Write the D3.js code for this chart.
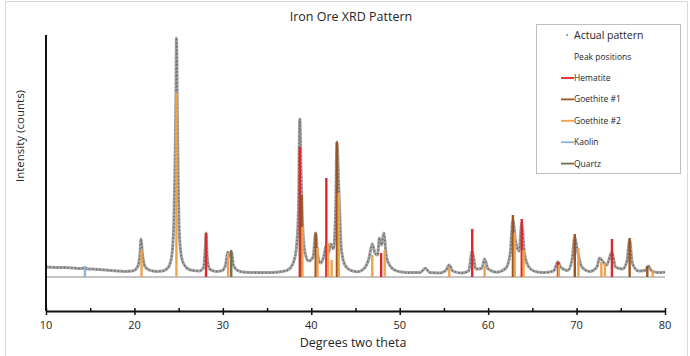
<!DOCTYPE html>
<html>
<head>
<meta charset="utf-8">
<script src="https://cdn.jsdelivr.net/npm/d3@7"></script>
<style>
  body { margin: 0; background: #fff; }
  text { font-family: "Open Sans", sans-serif; fill: #262626; }
</style>
</head>
<body>
<div id="area"></div>
<script>
// measured pattern, [2theta, counts]
var pattern = [
  [10.0,250],[11,240],[12,235],[13,225],[14,215],[14.4,230],[14.6,205],[15,200],[16,185],[17,170],
  [18,150],[19,140],[19.8,150],[20.3,230],[20.6,500],[20.75,950],[20.9,600],[21.2,260],[21.7,170],
  [22.5,140],[23.2,150],[23.8,230],[24.2,500],[24.45,1300],[24.6,2900],[24.7,4700],[24.75,5975],
  [24.8,5500],[24.85,4200],[24.95,2400],[25.1,1000],[25.4,420],[25.9,230],[26.6,160],[27.3,150],
  [27.8,230],[28.0,700],[28.1,1100],[28.2,600],[28.5,200],[29.2,140],[29.9,160],[30.3,300],
  [30.55,620],[30.7,500],[30.95,650],[31.2,300],[31.7,160],[32.5,120],[34,110],[35.5,110],[36.5,130],
  [37.3,170],[37.9,320],[38.3,700],[38.55,1700],[38.7,3950],[38.85,2600],[39.0,1400],[39.3,600],
  [39.7,400],[40.2,500],[40.5,1100],[40.7,600],[41.0,350],[41.4,500],[41.7,800],[41.95,600],
  [42.2,825],[42.5,700],[42.75,1600],[42.9,3375],[43.1,2300],[43.4,700],[43.8,300],[44.4,170],
  [45.2,130],[46.0,220],[46.5,450],[46.9,825],[47.2,600],[47.5,550],[47.7,975],[47.95,800],
  [48.2,1100],[48.5,500],[49,250],[49.8,140],[51,110],[52.3,110],[52.9,220],[53.4,110],[54.5,100],
  [55.2,160],[55.6,300],[56,150],[57,100],[57.8,150],[58.2,650],[58.6,200],[59.3,220],[59.6,450],
  [60,200],[61,120],[62.0,220],[62.5,600],[62.8,1425],[63.1,900],[63.5,650],[63.8,1350],[64.1,600],
  [64.6,250],[65.3,140],[66.2,110],[67.4,150],[67.9,380],[68.2,250],[69,160],[69.5,450],[69.8,1000],
  [70.1,650],[70.6,250],[71.5,140],[72.3,250],[72.6,475],[73.0,380],[73.4,300],[74.0,625],
  [74.4,250],[75.2,200],[75.7,400],[76.0,925],[76.3,350],[77,150],[77.8,170],[78.1,275],[78.5,150],
  [79.2,110],[80,120]
];

// peak positions, [2theta, counts]
var hematite = [[28.1,1100],[38.7,3250],[41.7,2475],[47.9,600],[58.2,1200],[63.8,1450],[67.9,375],[74.0,950]];
var goethite1 = [[38.9,2050],[40.5,1100],[42.9,3375],[62.8,1550],[69.8,1075],[76.0,975],[78.0,275]];
var goethite2 = [[20.8,675],[24.75,4600],[30.6,600],[39.0,1250],[40.7,725],[41.9,850],[42.3,425],
  [43.1,2100],[46.9,550],[48.3,675],[55.6,225],[59.6,275],[63.0,1100],[64.0,675],[68.0,300],
  [70.2,725],[72.8,375],[73.2,325],[78.6,175]];
var kaolin = [[14.4,275]];
var quartz = [[30.95,650]];

var phaseNames = ["Hematite", "Goethite #1", "Goethite #2", "Kaolin", "Quartz"];
var phaseData = [hematite, goethite1, goethite2, kaolin, quartz];
var phaseColors = ["#E0282C", "#9A5520", "#F0A24E", "#8DB3E2", "#6F6F55"];
var xTicks = [10, 20, 30, 40, 50, 60, 70, 80];

var width = 690, height = 356;
var svg = d3.select("#area").append("svg")
  .attr("width", width).attr("height", height);

svg.append("rect")
  .attr("x", 5.5).attr("y", 1.5)
  .attr("width", 682).attr("height", 360)
  .attr("fill", "none").attr("stroke", "#d9d9d9");

var x = d3.scaleLinear().domain([10, 80]).range([46, 665]);
var y = d3.scaleLinear().domain([-850, 6050]).range([311, 35]);

// zero line
svg.append("line")
  .attr("x1", x(10)).attr("x2", x(80))
  .attr("y1", y(0)).attr("y2", y(0))
  .attr("stroke", "#8a8a8a").attr("stroke-width", 1);

// measured pattern, drawn as a dotted trace
var line = d3.line()
  .x(function (d) { return x(d[0]); })
  .y(function (d) { return y(d[1]); })
  .curve(d3.curveMonotoneX);

svg.append("path")
  .datum(pattern)
  .attr("d", line)
  .attr("fill", "none")
  .attr("stroke", "#a6a6a6")
  .attr("stroke-width", 3);

svg.append("path")
  .datum(pattern)
  .attr("d", line)
  .attr("fill", "none")
  .attr("stroke", "#6e6e6e")
  .attr("stroke-width", 1.6)
  .attr("stroke-dasharray", "1.4,2.2");

// peak sticks
phaseData.forEach(function (peaks, i) {
  svg.append("g").selectAll("line")
    .data(peaks)
    .enter()
    .append("line")
    .attr("x1", function (d) { return x(d[0]); })
    .attr("x2", function (d) { return x(d[0]); })
    .attr("y1", y(0))
    .attr("y2", function (d) { return y(d[1]); })
    .attr("stroke", phaseColors[i])
    .attr("stroke-width", 2.4);
});

// axes
svg.append("line")
  .attr("x1", x(10)).attr("x2", x(10))
  .attr("y1", y(6050)).attr("y2", y(-850))
  .attr("stroke", "#111").attr("stroke-width", 2);

var xAxis = d3.axisBottom(x)
  .tickValues(d3.range(10, 81, 5))
  .tickSize(0)
  .tickFormat("");
var gx = svg.append("g")
  .attr("transform", "translate(0," + y(-850) + ")")
  .call(xAxis);
gx.select(".domain").attr("stroke", "#111").attr("stroke-width", 2);
gx.selectAll(".tick line")
  .attr("y1", function (d) { return d % 10 === 0 ? 4 : 1; })
  .attr("y2", -3)
  .attr("stroke", "#111").attr("stroke-width", 1.5);

svg.append("g").selectAll("text")
  .data(xTicks)
  .enter()
  .append("text")
  .attr("x", function (d) { return x(d); })
  .attr("y", 329)
  .attr("text-anchor", "middle")
  .style("font-size", "11px")
  .text(function (d) { return d; });

svg.append("text")
  .attr("x", 353).attr("y", 347)
  .attr("text-anchor", "middle")
  .style("font-size", "12.5px")
  .text("Degrees two theta");

svg.append("text")
  .attr("transform", "translate(24,136) rotate(-90)")
  .attr("text-anchor", "middle")
  .style("font-size", "11.5px")
  .text("Intensity (counts)");

svg.append("text")
  .attr("x", 351).attr("y", 21)
  .attr("text-anchor", "middle")
  .style("font-size", "12.5px")
  .text("Iron Ore XRD Pattern");

// legend
var lg = svg.append("g");
lg.append("rect")
  .attr("x", 536.5).attr("y", 24.5)
  .attr("width", 144).attr("height", 149)
  .attr("fill", "#fff").attr("stroke", "#bfbfbf");
lg.append("circle").attr("cx", 567).attr("cy", 35).attr("r", 0.9).attr("fill", "#7a7a7a");
lg.append("text").attr("x", 574).attr("y", 39).style("font-size", "10.5px").text("Actual pattern");
lg.append("text").attr("x", 574).attr("y", 60).style("font-size", "8.5px").text("Peak positions");

var items = lg.selectAll("g.item")
  .data(phaseNames)
  .enter()
  .append("g")
  .attr("class", "item")
  .attr("transform", function (d, i) { return "translate(0," + (78 + i * 21.4) + ")"; });
items.append("line")
  .attr("x1", 561).attr("x2", 574)
  .attr("stroke", function (d, i) { return phaseColors[i]; })
  .attr("stroke-width", 1.8);
items.append("text")
  .attr("x", 574).attr("y", 3)
  .style("font-size", "8.5px")
  .text(function (d) { return d; });
</script>
</body>
</html>
